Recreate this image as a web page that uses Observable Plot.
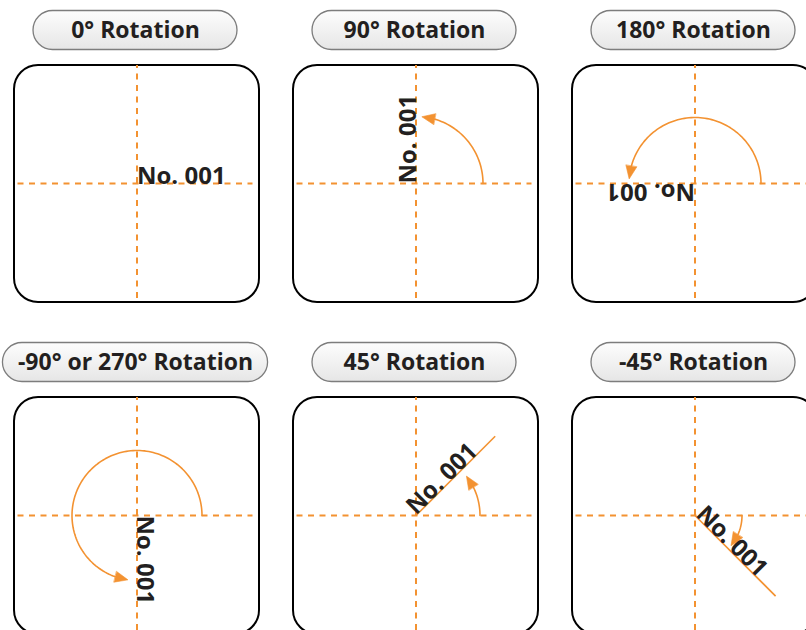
<!DOCTYPE html>
<html><head><meta charset="utf-8">
<script src="https://cdn.jsdelivr.net/npm/d3@7"></script>
<script src="https://cdn.jsdelivr.net/npm/@observablehq/plot@0.6"></script>
<style>
html,body{margin:0;padding:0;background:#fff;}
</style></head><body><div id="chart"></div>
<script>
// ---- data ----
const titles = ["0° Rotation", "90° Rotation", "180° Rotation", "-90° or 270° Rotation", "45° Rotation", "-45° Rotation"];
const textAngles = [0, 90, 180, -90, 45, -45];        // rotation of the label, degrees counter-clockwise
const arcEndAngles = [null, 85, 176, 262, 38, -40];    // where each rotation arrow ends (degrees)
const arcRadii = [null, 67, 66, 65, 64, 47];           // radius of each rotation arrow
const guideLengths = [0, 0, 0, 0, 112, 114];           // solid guide along the rotated label
const label = "No. 001";

// ---- style / layout ----
const ORANGE = "#f39231";
const INK = "#231f20";
const FONT = "'Open Sans', Lato, sans-serif";
const NCOL = 3;
const BOX = {left: -122.5, right: 122.5, top: 118, bottom: -119, r: 24};
const CROSS = {h1: -119, h2: 116, v1: -115, v2: 118};
const PILL = {cy: 153, h: 39, cx: -1.5, minW: 204, pad: 30};
const HEAD = {len: 13, wid: 11};

const ctx = document.createElement("canvas").getContext("2d");
ctx.font = `700 23px ${FONT}`;

const panels = titles.map((title, i) => {
  const w = Math.max(PILL.minW, ctx.measureText(title).width + PILL.pad);
  return {
    i, title, col: i % NCOL, row: Math.floor(i / NCOL),
    angle: textAngles[i], end: arcEndAngles[i], r: arcRadii[i], guide: guideLengths[i],
    px1: PILL.cx - w / 2, px2: PILL.cx + w / 2
  };
});

// arcs and arrowheads (geometry from the angle data)
const rad = Math.PI / 180;
const arcPts = [], headPts = [];
for (const p of panels) {
  if (p.end == null) continue;
  const s = Math.sign(p.end);
  const tipA = p.end * rad;
  const baseA = tipA - s * (HEAD.len / p.r);
  const n = Math.max(2, Math.ceil(Math.abs(baseA) / (2 * rad)));
  for (let k = 0; k <= n; k++) {
    const a = baseA * k / n;
    arcPts.push({i: p.i, col: p.col, row: p.row, x: p.r * Math.cos(a), y: p.r * Math.sin(a)});
  }
  const bx = p.r * Math.cos(baseA), by = p.r * Math.sin(baseA);
  const tx = p.r * Math.cos(tipA), ty = p.r * Math.sin(tipA);
  const dx = tx - bx, dy = ty - by, dl = Math.hypot(dx, dy);
  const nx = -dy / dl, ny = dx / dl;
  headPts.push(
    {i: p.i, col: p.col, row: p.row, x: bx + nx * HEAD.wid / 2, y: by + ny * HEAD.wid / 2},
    {i: p.i, col: p.col, row: p.row, x: tx, y: ty},
    {i: p.i, col: p.col, row: p.row, x: bx - nx * HEAD.wid / 2, y: by - ny * HEAD.wid / 2}
  );
}
const guides = panels.filter(p => p.guide > 0);

const facet = {fx: "col", fy: "row"};
const svg = Plot.plot({
  width: 806,
  height: 630,
  style: {background: "white", overflow: "hidden", fontFamily: FONT},
  fx: {domain: [0, 1, 2], range: [-3.5, 833.5], padding: 0, axis: null},
  fy: {domain: [0, 1], range: [17, 681], padding: 0, axis: null},
  facet: {marginTop: 0, marginRight: 0, marginBottom: 0, marginLeft: 0},
  x: {domain: [-139.5, 139.5], axis: null},
  y: {domain: [-166, 166], axis: null},
  marks: [
    Plot.rect(panels, {...facet, x1: BOX.left, x2: BOX.right, y1: BOX.bottom, y2: BOX.top,
      rx: BOX.r, fill: "white", stroke: "black", strokeWidth: 2}),
    Plot.ruleY(panels, {...facet, y: 0, x1: CROSS.h1, x2: CROSS.h2,
      stroke: ORANGE, strokeWidth: 2, strokeDasharray: "6,5.5"}),
    Plot.ruleX(panels, {...facet, x: 0, y1: CROSS.v1, y2: CROSS.v2,
      stroke: ORANGE, strokeWidth: 2, strokeDasharray: "6,5.5"}),
    Plot.link(guides, {...facet, x1: 0, y1: 0,
      x2: d => d.guide * Math.cos(d.angle * rad), y2: d => d.guide * Math.sin(d.angle * rad),
      stroke: ORANGE, strokeWidth: 1.6}),
    Plot.line(arcPts, {...facet, x: "x", y: "y", z: "i", stroke: ORANGE, strokeWidth: 1.6}),
    Plot.line(headPts, {...facet, x: "x", y: "y", z: "i", fill: ORANGE, stroke: ORANGE,
      strokeWidth: 0.6, curve: "linear-closed"}),
    Plot.text(panels, {...facet, x: 0, y: 0, text: () => label, rotate: d => -d.angle,
      textAnchor: "start", lineAnchor: "bottom", fontSize: 24, fontWeight: 700, fill: INK}),
    Plot.rect(panels, {...facet, x1: "px1", x2: "px2", y1: PILL.cy - PILL.h / 2, y2: PILL.cy + PILL.h / 2,
      rx: PILL.h / 2, fill: "url(#pillGrad)", stroke: "#7d7d7d", strokeWidth: 1.3}),
    Plot.text(panels, {...facet, x: PILL.cx, y: PILL.cy, text: "title",
      fontSize: 23, fontWeight: 700, fill: INK})
  ]
});

const defs = d3.select(svg).insert("defs", ":first-child");
const grad = defs.append("linearGradient").attr("id", "pillGrad")
  .attr("x1", 0).attr("y1", 0).attr("x2", 0).attr("y2", 1);
grad.append("stop").attr("offset", "0%").attr("stop-color", "#fdfdfd");
grad.append("stop").attr("offset", "100%").attr("stop-color", "#e6e6e6");

document.getElementById("chart").append(svg);
</script>
</body></html>
